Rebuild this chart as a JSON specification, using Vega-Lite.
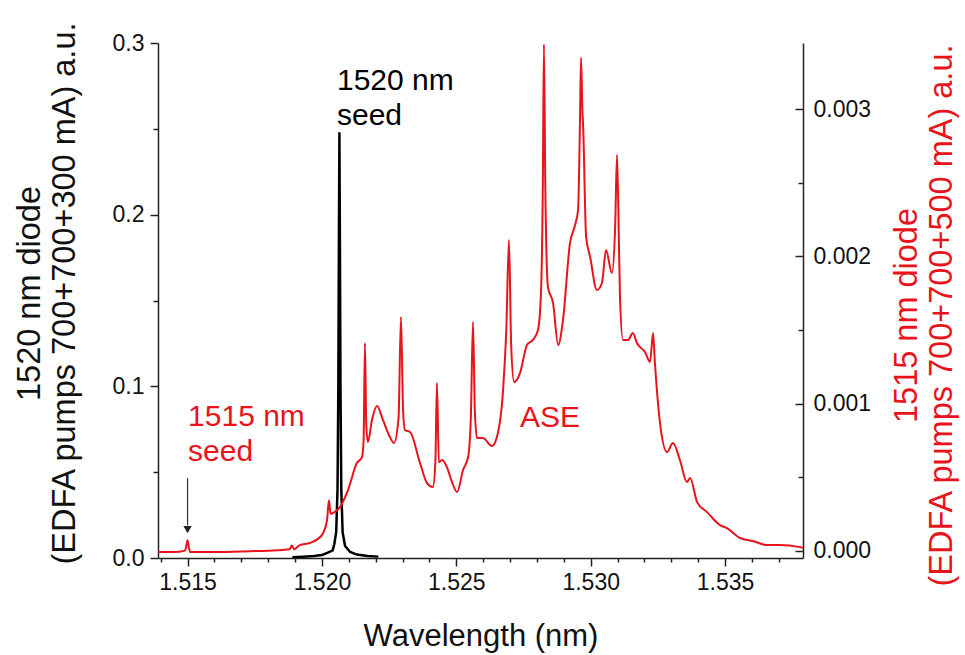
{
  "$schema": "https://vega.github.io/schema/vega-lite/v6.json",
  "width": 645,
  "height": 515,
  "autosize": {"type": "none"},
  "padding": {"left": 158, "top": 43, "right": 162, "bottom": 97},
  "background": "white",
  "config": {
    "view": {"stroke": null},
    "font": "Liberation Sans",
    "axis": {"domainColor": "#222", "tickColor": "#222", "labelColor": "#111", "titleColor": "#111", "grid": false, "domainWidth": 1.5, "tickWidth": 1.5, "labelFont": "Liberation Sans", "titleFont": "Liberation Sans", "titleFontWeight": "normal", "labelOverlap": false, "labelFlush": false}
  },
  "datasets": {
    "red": [
      {"w": 1.5139, "v": -0.00001}, {"w": 1.5145, "v": -0.00001}, {"w": 1.5149, "v": 0.0}, {"w": 1.51495, "v": 0.00003}, {"w": 1.515, "v": 0.00007}, {"w": 1.51505, "v": 0.00002}, {"w": 1.5151, "v": -0.00001}, {"w": 1.516, "v": -0.00001}, {"w": 1.517, "v": -0.000005}, {"w": 1.518, "v": 0.0}, {"w": 1.5188, "v": 0.00001}, {"w": 1.51888, "v": 0.000035}, {"w": 1.51896, "v": 0.00001}, {"w": 1.51918, "v": 0.000038}, {"w": 1.51955, "v": 0.000052}, {"w": 1.51985, "v": 0.00008}, {"w": 1.52004, "v": 0.000118}, {"w": 1.52019, "v": 0.000208}, {"w": 1.52026, "v": 0.000342}, {"w": 1.52032, "v": 0.00025}, {"w": 1.52045, "v": 0.00026}, {"w": 1.52067, "v": 0.000296}, {"w": 1.52097, "v": 0.000412}, {"w": 1.5213, "v": 0.000595}, {"w": 1.52149, "v": 0.000636}, {"w": 1.52155, "v": 0.00075}, {"w": 1.5216, "v": 0.001411}, {"w": 1.52165, "v": 0.00085}, {"w": 1.52171, "v": 0.000738}, {"w": 1.52186, "v": 0.000888}, {"w": 1.52205, "v": 0.000983}, {"w": 1.52227, "v": 0.000888}, {"w": 1.52253, "v": 0.000772}, {"w": 1.52268, "v": 0.000731}, {"w": 1.52285, "v": 0.0009}, {"w": 1.52294, "v": 0.001588}, {"w": 1.52302, "v": 0.00095}, {"w": 1.52309, "v": 0.00082}, {"w": 1.52328, "v": 0.000806}, {"w": 1.52365, "v": 0.000595}, {"w": 1.52391, "v": 0.000459}, {"w": 1.52413, "v": 0.000432}, {"w": 1.52422, "v": 0.0006}, {"w": 1.52428, "v": 0.001139}, {"w": 1.52435, "v": 0.0006}, {"w": 1.52447, "v": 0.000616}, {"w": 1.52465, "v": 0.000568}, {"w": 1.52484, "v": 0.000466}, {"w": 1.52503, "v": 0.000398}, {"w": 1.52525, "v": 0.000548}, {"w": 1.52544, "v": 0.000636}, {"w": 1.52554, "v": 0.0009}, {"w": 1.52562, "v": 0.001554}, {"w": 1.52569, "v": 0.00095}, {"w": 1.52577, "v": 0.000765}, {"w": 1.52599, "v": 0.000765}, {"w": 1.52633, "v": 0.000711}, {"w": 1.52651, "v": 0.000772}, {"w": 1.52674, "v": 0.001091}, {"w": 1.52686, "v": 0.0015}, {"w": 1.52696, "v": 0.002111}, {"w": 1.52704, "v": 0.0014}, {"w": 1.52715, "v": 0.001146}, {"w": 1.52737, "v": 0.001207}, {"w": 1.52763, "v": 0.001398}, {"w": 1.52785, "v": 0.001432}, {"w": 1.52804, "v": 0.001499}, {"w": 1.52815, "v": 0.00175}, {"w": 1.52822, "v": 0.0025}, {"w": 1.52826, "v": 0.00344}, {"w": 1.52831, "v": 0.0025}, {"w": 1.52841, "v": 0.001791}, {"w": 1.5286, "v": 0.001683}, {"w": 1.52879, "v": 0.001398}, {"w": 1.52897, "v": 0.001567}, {"w": 1.52923, "v": 0.002091}, {"w": 1.52942, "v": 0.002213}, {"w": 1.52953, "v": 0.002315}, {"w": 1.5296, "v": 0.0029}, {"w": 1.52964, "v": 0.003349}, {"w": 1.52969, "v": 0.003}, {"w": 1.52972, "v": 0.002879}, {"w": 1.52983, "v": 0.002132}, {"w": 1.52998, "v": 0.001996}, {"w": 1.53023, "v": 0.001771}, {"w": 1.53042, "v": 0.001819}, {"w": 1.53057, "v": 0.002043}, {"w": 1.53079, "v": 0.001887}, {"w": 1.53091, "v": 0.0022}, {"w": 1.53098, "v": 0.002689}, {"w": 1.53105, "v": 0.0021}, {"w": 1.53109, "v": 0.001724}, {"w": 1.5312, "v": 0.001432}, {"w": 1.53139, "v": 0.001432}, {"w": 1.53157, "v": 0.001479}, {"w": 1.53172, "v": 0.001411}, {"w": 1.53202, "v": 0.00135}, {"w": 1.53221, "v": 0.001282}, {"w": 1.53232, "v": 0.001479}, {"w": 1.53239, "v": 0.001275}, {"w": 1.53258, "v": 0.000867}, {"w": 1.53284, "v": 0.00067}, {"w": 1.53306, "v": 0.000731}, {"w": 1.53332, "v": 0.000616}, {"w": 1.53358, "v": 0.000466}, {"w": 1.5337, "v": 0.000494}, {"w": 1.53396, "v": 0.00033}, {"w": 1.53433, "v": 0.000262}, {"w": 1.53481, "v": 0.000174}, {"w": 1.53507, "v": 0.000153}, {"w": 1.53556, "v": 0.000086}, {"w": 1.53604, "v": 0.000065}, {"w": 1.53656, "v": 0.000038}, {"w": 1.53704, "v": 0.000038}, {"w": 1.53779, "v": 0.000024}, {"w": 1.5379, "v": 0.00002}
    ],
    "black": [
      {"w": 1.5189, "v": 0.0005}, {"w": 1.5193, "v": 0.0008}, {"w": 1.5197, "v": 0.0012}, {"w": 1.52, "v": 0.0018}, {"w": 1.5202, "v": 0.003}, {"w": 1.5204, "v": 0.0045}, {"w": 1.52046, "v": 0.008}, {"w": 1.52053, "v": 0.015}, {"w": 1.52058, "v": 0.04}, {"w": 1.52061, "v": 0.1}, {"w": 1.52063, "v": 0.18}, {"w": 1.52065, "v": 0.248}, {"w": 1.52067, "v": 0.18}, {"w": 1.52069, "v": 0.1}, {"w": 1.52072, "v": 0.04}, {"w": 1.52077, "v": 0.015}, {"w": 1.52086, "v": 0.007}, {"w": 1.52105, "v": 0.0035}, {"w": 1.5213, "v": 0.002}, {"w": 1.5217, "v": 0.0012}, {"w": 1.5221, "v": 0.0008}
    ],
    "blackText": [{"w": 1.52056, "v": 0.2727, "label": "1520 nm\nseed"}],
    "redText": [{"w": 1.51502, "v": 0.0767, "label": "1515 nm\nseed"}, {"w": 1.52737, "v": 0.0765, "label": "ASE"}],
    "arrow": [{"w": 1.515, "v": 0.0465, "v2": 0.019}],
    "arrowHead": [{"w": 1.515, "v": 0.0165}]
  },
  "encoding": {
    "x": {
      "field": "w", "type": "quantitative",
      "scale": {"domain": [1.5139, 1.5379], "nice": false, "zero": false},
      "axis": {
        "values": [1.514, 1.515, 1.516, 1.517, 1.518, 1.519, 1.52, 1.521, 1.522, 1.523, 1.524, 1.525, 1.526, 1.527, 1.528, 1.529, 1.53, 1.531, 1.532, 1.533, 1.534, 1.535, 1.536, 1.537],
        "labelExpr": "round(datum.value*1000)%5==0 ? format(datum.value,'.3f') : ''",
        "tickSize": {"condition": {"test": "round(datum.value*1000)%5==0", "value": 8}, "value": 4},
        "labelFontSize": 23, "labelPadding": 5,
        "title": "Wavelength (nm)", "titleFontSize": 31, "titleY": 87, "titleBaseline": "alphabetic"
      }
    }
  },
  "layer": [
    {
      "encoding": {
        "y": {
          "field": "v", "type": "quantitative",
          "scale": {"domain": [0, 0.3], "nice": false, "zero": false},
          "axis": {
            "orient": "left",
            "values": [0, 0.05, 0.1, 0.15, 0.2, 0.25, 0.3],
            "labelExpr": "round(datum.value*100)%10==0 ? format(datum.value,'.1f') : ''",
            "tickSize": {"condition": {"test": "round(datum.value*100)%10==0", "value": 8}, "value": 5},
            "labelFontSize": 23, "labelPadding": 6,
            "title": ["1520 nm diode", "(EDFA pumps 700+700+300 mA) a.u."],
            "titleFontSize": 32.5, "titleLineHeight": 35, "titleAngle": 270,
            "titleX": -145, "titleY": 250, "titleAlign": "center", "titleBaseline": "top"
          }
        }
      },
      "layer": [
        {"data": {"name": "black"}, "mark": {"type": "line", "color": "#000000", "strokeWidth": 2.5, "clip": true}},
        {"data": {"name": "blackText"}, "mark": {"type": "text", "color": "#000000", "fontSize": 30, "align": "left", "baseline": "alphabetic", "lineBreak": "\n", "lineHeight": 35}, "encoding": {"text": {"field": "label"}}},
        {"data": {"name": "redText"}, "mark": {"type": "text", "color": "#e8141b", "fontSize": 30, "align": "left", "baseline": "alphabetic", "lineBreak": "\n", "lineHeight": 35}, "encoding": {"text": {"field": "label"}}},
        {"data": {"name": "arrow"}, "mark": {"type": "rule", "color": "#333333", "strokeWidth": 1.2}, "encoding": {"y2": {"field": "v2"}}},
        {"data": {"name": "arrowHead"}, "mark": {"type": "point", "shape": "triangle-down", "filled": true, "color": "#222222", "size": 70, "opacity": 1}}
      ]
    },
    {
      "data": {"name": "red"},
      "mark": {"type": "line", "color": "#e8141b", "strokeWidth": 2, "clip": true, "interpolate": "monotone"},
      "encoding": {
        "y": {
          "field": "v", "type": "quantitative",
          "scale": {"domain": [-0.00005, 0.00345], "nice": false, "zero": false},
          "axis": {
            "orient": "right",
            "values": [0, 0.0005, 0.001, 0.0015, 0.002, 0.0025, 0.003],
            "labelExpr": "round(datum.value*10000)%10==0 ? format(datum.value,'.3f') : ''",
            "tickSize": {"condition": {"test": "round(datum.value*10000)%10==0", "value": -8}, "value": -5},
            "labelFontSize": 23, "labelPadding": 18,
            "title": ["1515 nm diode", "(EDFA pumps 700+700+500 mA) a.u."],
            "titleColor": "#e8141b",
            "titleFontSize": 32.5, "titleLineHeight": 35, "titleAngle": 270,
            "titleX": 87, "titleY": 272, "titleAlign": "center", "titleBaseline": "top"
          }
        }
      }
    }
  ],
  "resolve": {"scale": {"y": "independent"}, "axis": {"y": "independent"}}
}
